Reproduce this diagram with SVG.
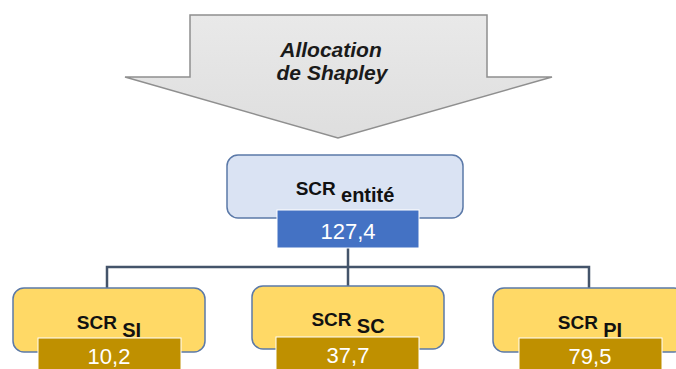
<svg xmlns="http://www.w3.org/2000/svg" width="676" height="369" viewBox="0 0 676 369">
<defs>
<linearGradient id="ag" x1="0" y1="0" x2="0" y2="1">
<stop offset="0" stop-color="#e9e9e9"/>
<stop offset="1" stop-color="#dedede"/>
</linearGradient>
</defs>
<style>
.lbl{font-family:"Liberation Sans",Arial,sans-serif;font-weight:bold;fill:#111;font-size:19px;text-anchor:middle}
.sub{font-size:20px}
.num{font-family:"Liberation Sans",Arial,sans-serif;fill:#fff;font-size:22px;text-anchor:middle}
.ybox{fill:#ffd966;stroke:#5b79a8;stroke-width:1.5}
.gbox{fill:#bf9000;stroke:#fff;stroke-width:1}
.conn{fill:none;stroke:#44546a;stroke-width:2.5}
.ttl{font-family:"Liberation Sans",Arial,sans-serif;font-weight:bold;font-style:italic;font-size:21px;fill:#1a1a1a;text-anchor:middle}
</style>
<g id="arrow">
<path d="M190,15 L487,15 L487,77 L552,77 L338,138 L125,77 L190,77 Z" fill="url(#ag)" stroke="#8f8f8f" stroke-width="1.5"/>
<text class="ttl" x="331" y="57">Allocation</text>
<text class="ttl" x="332" y="80">de Shapley</text>
</g>
<g id="connectors">
<path class="conn" d="M348,248 L348,287 M107,288 L107,267 L589,267 L589,288"/>
</g>
<g id="entite">
<rect x="227" y="155" width="236" height="63" rx="11" fill="#dae3f3" stroke="#5b79a8" stroke-width="1.5"/>
<rect x="277" y="210" width="142" height="38" fill="#4472c4" stroke="#fff" stroke-width="1"/>
<text class="lbl" x="345" y="195">SCR <tspan class="sub" dy="7">entité</tspan></text>
<text class="num" x="348" y="239">127,4</text>
</g>
<g id="si">
<rect class="ybox" x="13" y="288" width="192" height="64" rx="11"/>
<rect class="gbox" x="38" y="338" width="143" height="40"/>
<text class="lbl" x="109" y="329">SCR <tspan class="sub" dy="8">SI</tspan></text>
<text class="num" x="109" y="364">10,2</text>
</g>
<g id="sc">
<rect class="ybox" x="252" y="286" width="192" height="63" rx="11"/>
<rect class="gbox" x="276" y="337" width="143" height="40"/>
<text class="lbl" x="348" y="326">SCR <tspan class="sub" dy="7">SC</tspan></text>
<text class="num" x="348" y="363">37,7</text>
</g>
<g id="pi">
<rect class="ybox" x="493" y="288" width="192" height="64" rx="11"/>
<rect class="gbox" x="519" y="338" width="143" height="40"/>
<text class="lbl" x="590" y="329">SCR <tspan class="sub" dy="8">PI</tspan></text>
<text class="num" x="590" y="364">79,5</text>
</g>
</svg>
